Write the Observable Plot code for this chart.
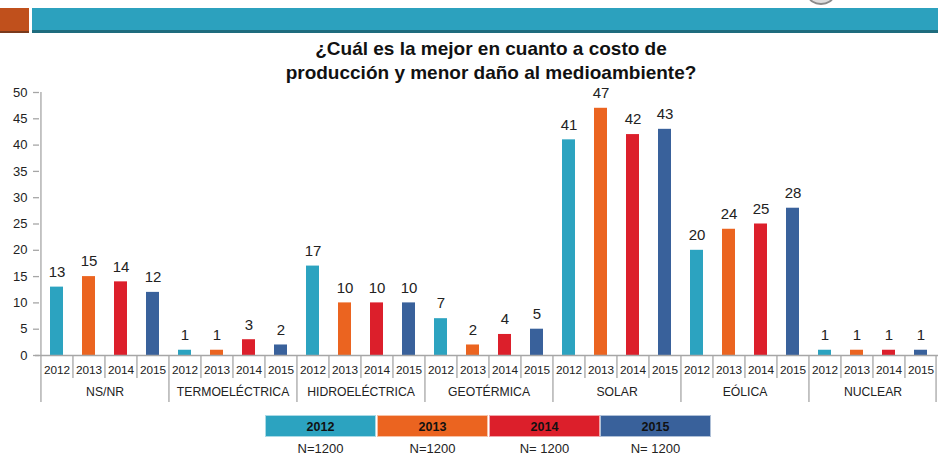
<!DOCTYPE html>
<html><head><meta charset="utf-8">
<script src="https://cdn.jsdelivr.net/npm/d3@7"></script>
<script src="https://cdn.jsdelivr.net/npm/@observablehq/plot@0.6"></script>
<style>
body{margin:0;background:#fff;font-family:"Liberation Sans",Arial,sans-serif;}
#wrap{position:relative;width:938px;height:458px;overflow:hidden;background:#fff;}
#orange{position:absolute;left:0;top:8px;width:29px;height:23px;background:#C0501C;border-bottom:2px solid #7a3a1c;}
#teal{position:absolute;left:32px;top:8px;width:906px;height:22px;background:#2CA1BE;border-bottom:3px solid #1E6C7E;}
#logo{position:absolute;left:808px;top:-13px;width:22px;height:14px;border:2px solid #8a8a8a;border-radius:50%;background:#ddd;}
#title{position:absolute;left:191px;top:37px;width:600px;text-align:center;font-weight:bold;font-size:19px;line-height:24px;color:#111;}
#chart{position:absolute;left:0;top:80px;}
#chart g[aria-label="y-axis tick label"]{font-size:13px !important;}
#chart g[aria-label="y-axis tick label"] text{font-size:13px !important;}
#legend{position:absolute;left:0;top:0;}
.lbox{position:absolute;top:415px;height:22px;line-height:22px;text-align:center;font-weight:bold;font-size:12.5px;color:#111;box-sizing:border-box;border:1px solid rgba(255,255,255,0.6);}
.ln{position:absolute;top:441px;height:16px;line-height:16px;text-align:center;font-size:13px;color:#222;}
</style></head><body>
<div id="wrap">
  <div id="orange"></div><div id="teal"></div><div id="logo"></div>
  <div id="title">¿Cuál es la mejor en cuanto a costo de<br>producción y menor daño al medioambiente?</div>
  <div id="chart"></div>
  <div id="legend"></div>
</div>
<script>
const groups = ["NS/NR","TERMOELÉCTRICA","HIDROELÉCTRICA","GEOTÉRMICA","SOLAR","EÓLICA","NUCLEAR"];
const years = ["2012","2013","2014","2015"];
const v2012 = [13, 1, 17, 7, 41, 20, 1];
const v2013 = [15, 1, 10, 2, 47, 24, 1];
const v2014 = [14, 3, 10, 4, 42, 25, 1];
const v2015 = [12, 2, 10, 5, 43, 28, 1];
const yTicks = [0, 5, 10, 15, 20, 25, 30, 35, 40, 45, 50];
const colors = ["#2CA3C0", "#EB6420", "#DC1F2B", "#39619B"];
const sampleN = ["N=1200", "N=1200", "N= 1200", "N= 1200"];

const series = [v2012, v2013, v2014, v2015];
const rows = [];
groups.forEach((g, gi) => years.forEach((y, yi) => rows.push({group: g, year: y, key: g + "|" + y, value: series[yi][gi]})));
const keys = rows.map(d => d.key);

const W = 938, H = 330, mL = 39, mR = 0, mT = 12, mB = 55;
const step = (W - mL - mR) / keys.length;
const groupStarts = rows.filter(d => d.year === years[0]);
const innerSeps = rows.filter(d => d.year !== years[0]);
const groupMids = rows.filter(d => d.year === years[1]);
const last = rows.slice(-1);
const sepColor = "#a6a6a6";

const chart = Plot.plot({
  width: W, height: H,
  marginTop: mT, marginBottom: mB, marginLeft: mL, marginRight: mR,
  style: {fontFamily: "'Liberation Sans', Arial, sans-serif", fontSize: "13px", color: "#222", background: "transparent", overflow: "visible"},
  x: {type: "band", domain: keys, paddingInner: 0.6, paddingOuter: 0.3, axis: null},
  y: {domain: [0, 50], axis: null},
  color: {domain: years, range: colors},
  marks: [
    Plot.axisY({ticks: yTicks, tickSize: 6, tickPadding: 6, fontSize: 13, stroke: sepColor, strokeWidth: 1.3, fill: "#222", label: null}),
    Plot.barY(rows, {x: "key", y: "value", fill: "year"}),
    Plot.ruleY([0], {stroke: sepColor, strokeWidth: 1.5, insetLeft: -4}),
    Plot.ruleX(groupStarts.slice(0, 1), {x: "key", y1: 50, y2: 0, dx: -step / 2, stroke: sepColor, strokeWidth: 1.3, insetBottom: -47}),
    Plot.ruleX(groupStarts.slice(1), {x: "key", y1: 0, y2: 0, dx: -step / 2, stroke: sepColor, strokeWidth: 1.3, insetBottom: -47}),
    Plot.ruleX(last, {x: "key", y1: 0, y2: 0, dx: step / 2 - 1, stroke: sepColor, strokeWidth: 1.3, insetBottom: -47}),
    Plot.ruleX(innerSeps, {x: "key", y1: 0, y2: 0, dx: -step / 2, stroke: sepColor, strokeWidth: 1.3, insetBottom: -23}),
    Plot.text(rows, {x: "key", y: 0, text: "year", dy: 15, fontSize: 11.8, fill: "#222"}),
    Plot.text(groupMids, {x: "key", y: 0, text: "group", dx: step / 2, dy: 37, fontSize: 12.2, fill: "#222"}),
    Plot.text(rows, {x: "key", y: "value", text: d => String(d.value), dy: -15, fontSize: 15, fill: "#222"})
  ]
});
document.getElementById("chart").appendChild(chart);

const legend = document.getElementById("legend");
const boxLeft = [265, 377, 489, 600];
const boxW = [111, 111, 111, 111];
years.forEach((y, i) => {
  const b = document.createElement("div");
  b.className = "lbox";
  b.style.left = boxLeft[i] + "px";
  b.style.width = boxW[i] + "px";
  b.style.background = colors[i];
  b.textContent = y;
  legend.appendChild(b);
  const n = document.createElement("div");
  n.className = "ln";
  n.style.left = boxLeft[i] + "px";
  n.style.width = boxW[i] + "px";
  n.textContent = sampleN[i];
  legend.appendChild(n);
});
</script>
</body></html>
